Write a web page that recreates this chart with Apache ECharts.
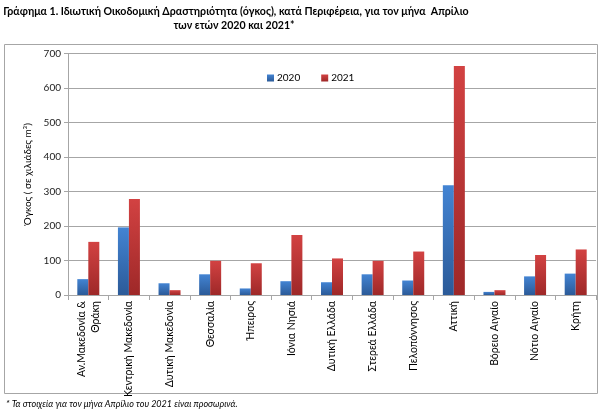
<!DOCTYPE html>
<html>
<head>
<meta charset="utf-8">
<script src="https://cdn.jsdelivr.net/npm/echarts@6/dist/echarts.min.js"></script>
<style>html,body{margin:0;padding:0;background:#fff}#c{width:600px;height:412px}</style>
</head>
<body>
<div id="c"></div>
<script>
const categories = ['Αν.Μακεδονία &\nΘράκη','Κεντρική Μακεδονία','Δυτική Μακεδονία','Θεσσαλία','Ήπειρος','Ιόνια Νησιά','Δυτική Ελλάδα','Στερεά Ελλάδα','Πελοπόννησος','Αττική','Βόρειο Αιγαίο','Νότιο Αιγαίο','Κρήτη'];
const values2020 = [46,196,34,60,19,40,37,60,42,318,9,54,62];
const values2021 = [154,278,14,99,92,174,106,99,126,664,14,116,132];
const yTicks = [0,100,200,300,400,500,600,700];

const chart = echarts.init(document.getElementById('c'));
const grad = (a,b) => new echarts.graphic.LinearGradient(0,0,0,1,[{offset:0,color:a},{offset:1,color:b}]);
chart.setOption({
  animation:false,
  backgroundColor:'#fff',
  textStyle:{fontFamily:'Lato'},
  graphic:[
    {type:'rect',shape:{x:4.5,y:44.5,width:593,height:349},style:{fill:'none',stroke:'#a6a6a6',lineWidth:1},silent:true},
    {type:'text',x:236,y:6,style:{text:'Γράφημα 1. Ιδιωτική Οικοδομική Δραστηριότητα (όγκος), κατά Περιφέρεια, για τον μήνα  Απρίλιο',font:'bold 10.6px Lato',fill:'#000',textAlign:'center'}},
    {type:'text',x:234,y:20,style:{text:'των ετών 2020 και 2021*',font:'bold 10.6px Lato',fill:'#000',textAlign:'center'}},
    {type:'text',x:6,y:400,style:{text:'* Τα στοιχεία για τον μήνα Απρίλιο του 2021 είναι προσωρινά.',font:'italic 9px Lato',fill:'#000'}}
  ],
  legend:{
    data:['2020','2021'],left:262,top:68,itemWidth:7,itemHeight:7,itemGap:21,
    icon:'rect',textStyle:{fontSize:10,color:'#000',padding:[0,0,0,-2]}
  },
  grid:{left:68,right:4,top:53.5,bottom:117},
  xAxis:{
    type:'category',data:categories,
    axisLine:{lineStyle:{color:'#a6a6a6'}},
    axisTick:{show:true,length:5,lineStyle:{color:'#a6a6a6'}},
    axisLabel:{rotate:90,interval:0,fontSize:10.5,color:'#000',margin:6,lineHeight:14}
  },
  yAxis:{
    type:'value',min:yTicks[0],max:yTicks[yTicks.length-1],interval:100,
    name:'Όγκος ( σε χιλιάδες m³)',nameLocation:'middle',nameGap:25,
    nameTextStyle:{fontSize:10,color:'#000'},
    axisLine:{show:true,lineStyle:{color:'#a6a6a6'}},
    axisTick:{show:true,length:4,lineStyle:{color:'#a6a6a6'}},
    axisLabel:{fontSize:10,color:'#222',margin:7},
    splitLine:{lineStyle:{color:'#a6a6a6'}}
  },
  series:[
    {name:'2020',type:'bar',data:values2020,barWidth:11,barGap:'0%',itemStyle:{color:grad('#4384d3','#2b5a98')}},
    {name:'2021',type:'bar',data:values2021,barWidth:11,itemStyle:{color:grad('#d24242','#9e2828')}}
  ]
});
</script>
</body>
</html>
